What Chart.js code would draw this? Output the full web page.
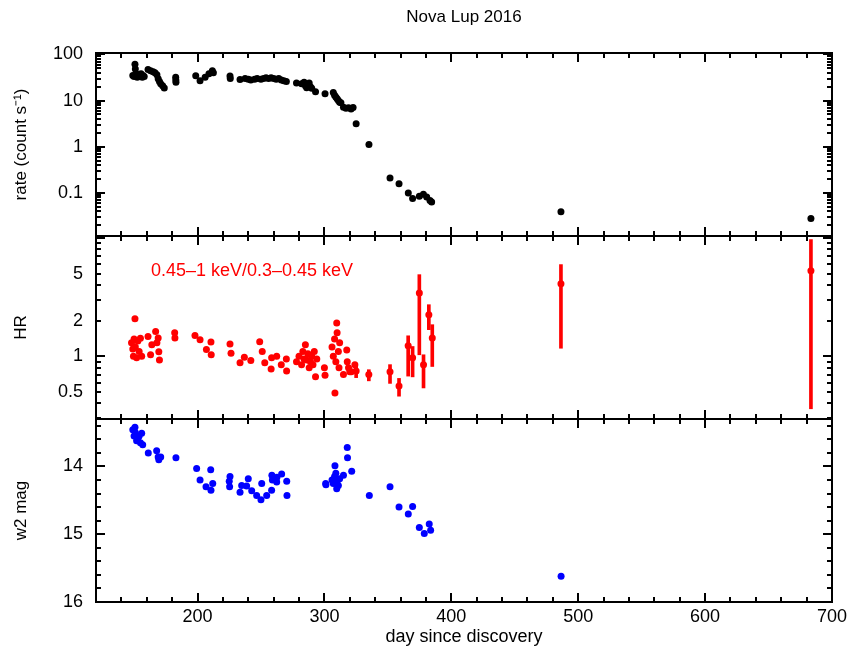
<!DOCTYPE html>
<html>
<head>
<meta charset="utf-8">
<title>Nova Lup 2016</title>
<script src="https://cdn.jsdelivr.net/npm/chart.js@4.4.1/dist/chart.umd.min.js"></script>
<style>
  html, body { margin: 0; padding: 0; background: #fff; }
</style>
</head>
<body>
<canvas id="novaChart" width="848" height="648"></canvas>
<script>
// X-ray count rate
const rateDay = [150.7, 151, 149, 150, 151.5, 152.5, 153.5, 154.5, 155.5, 156.5, 157, 158,
  161, 163, 165, 166.5, 168, 169, 170, 171, 172.5, 173.8, 182.8, 182.9, 183,
  198.6, 202, 206, 209, 211.7, 212.5, 225.6, 225.8, 233.5, 237.5, 240, 242, 245, 247,
  250, 252, 254, 256, 258, 260, 262, 264, 266, 268, 270, 278, 282, 284, 285, 286, 287,
  288, 289, 290, 293, 300.5, 307, 308, 309, 310, 311, 312, 313, 315, 317, 319, 321,
  322.6, 325, 335.1, 351.7, 358.8, 366.1, 369.5, 374.8, 378, 380.6, 383.2, 384.5,
  486.4, 683.4];
const rateVal = [61, 48, 35, 33, 38, 32, 36, 34, 38, 32, 35, 33,
  47, 44, 42, 40, 36, 29.5, 26, 23, 21, 18.8, 32, 28, 25,
  34.6, 27, 32, 38, 44, 40, 34, 30, 28.5, 30, 29, 28, 29, 30,
  29, 30, 31, 30, 31, 30, 29, 30, 28, 27, 25.7, 24, 23, 25, 21, 19, 22,
  24, 20, 18.5, 15.6, 14, 15, 13, 12, 11, 10, 9.2, 9, 7.2, 6.8, 7.0, 6.6,
  7.1, 3.13, 1.12, 0.21, 0.158, 0.1, 0.076, 0.085, 0.094, 0.082, 0.069, 0.064,
  0.039, 0.028];

// hardness ratio 0.45-1 keV / 0.3-0.45 keV
const hrDay = [150.7, 148, 149, 149.5, 150, 151, 152, 153, 154, 155, 156,
  161, 163, 164, 167, 168, 169, 169.5, 170, 182, 182.2, 198, 202, 207, 210.6, 210.8,
  225.6, 226.4, 233.5, 236.9, 242, 249, 251, 253, 258, 258.4, 262.4, 266, 270, 270.2,
  278, 280, 282, 283, 284, 285, 286, 287, 288, 289, 290, 291, 292, 293, 294, 300, 300.5,
  306, 307, 308, 308.3, 309, 309.7, 310, 311, 311.5, 312, 315, 317.6, 318, 319, 320,
  321.2, 324, 325, 335, 351.7, 358.8, 366, 369.5, 374.8, 378.1, 382.3, 385, 486.4, 683.4];
const hrVal = [2.08, 1.3, 1.15, 1.0, 1.4, 1.2, 0.97, 1.35, 1.1, 1.42, 1.0,
  1.47, 1.03, 1.25, 1.62, 1.3, 1.43, 1.09, 0.93, 1.58, 1.43, 1.5, 1.38, 1.14, 1.32, 1.03,
  1.27, 1.06, 0.88, 0.98, 0.92, 1.33, 1.1, 0.88, 0.78, 0.97, 1.0, 0.85, 0.95, 0.75,
  0.9, 1.0, 0.85, 1.1, 0.95, 1.25, 0.93, 1.05, 0.8, 0.9, 1.0, 0.85, 1.1, 0.67, 0.95, 0.8, 0.69,
  1.2, 1.0, 1.4, 0.49, 0.9, 1.91, 1.58, 1.1, 0.8, 1.3, 0.70, 1.13, 0.9, 0.8, 0.74,
  0.74, 0.85, 0.75, 0.70, 0.74, 0.56, 1.23, 0.97, 3.43, 0.85, 2.25, 1.43, 4.1, 5.3];
const hrErrDay = [325, 335, 351.7, 358.8, 366, 369.5, 374.8, 378.1, 382.3, 385, 486.4, 683.4];
const hrErrLo = [0.66, 0.62, 0.59, 0.46, 0.68, 0.67, 1.03, 0.54, 1.68, 0.82, 1.17, 0.36];
const hrErrHi = [0.85, 0.77, 0.85, 0.65, 1.49, 1.21, 4.9, 1.03, 2.73, 1.85, 5.96, 9.7];

// UVOT w2 magnitude
const w2Day = [150.7, 149, 150, 151, 152, 153, 154, 155, 156, 156.8, 161.2, 167.8, 169, 169.5, 171, 183,
  199.3, 202, 206.7, 210.4, 210.6, 212, 225, 225.6, 225.3, 233.5, 234.8, 238.7, 240, 242.7,
  246.6, 250, 250.6, 254.5, 258.4, 258.6, 259, 262.4, 262.6, 266.3, 270.3, 270.5,
  301, 301.2, 306, 307, 308, 308.3, 309, 309.7, 310, 311, 312, 315, 318, 318.2, 321.5,
  335.4, 351.7, 358.8, 366.1, 369.5, 374.8, 378.7, 382.6, 383.7, 486.5];
const w2Mag = [13.42, 13.46, 13.55, 13.5, 13.62, 13.58, 13.55, 13.65, 13.51, 13.68, 13.80, 13.77, 13.86, 13.90, 13.86, 13.87,
  14.03, 14.20, 14.30, 14.05, 14.35, 14.25, 14.22, 14.15, 14.30, 14.38, 14.28, 14.29, 14.18, 14.36,
  14.43, 14.49, 14.25, 14.43, 14.35, 14.13, 14.20, 14.23, 14.16, 14.11, 14.22, 14.43,
  14.25, 14.27, 14.20, 14.25, 14.15, 13.99, 14.10, 14.33, 14.22, 14.28, 14.18, 14.13, 13.72, 13.87, 14.07,
  14.43, 14.30, 14.60, 14.70, 14.59, 14.90, 14.99, 14.85, 14.94, 15.62];

// labelled ticks
const dayTicks = [200, 300, 400, 500, 600, 700];
const rateTicks = [0.1, 1, 10, 100];
const hrTicks = [0.5, 1, 2, 5];
const w2Ticks = [14, 15, 16];

const FONT = "'Liberation Sans', Arial, Helvetica, sans-serif";
Chart.defaults.color = '#000';
Chart.defaults.font.family = FONT;
Chart.defaults.font.size = 18;

function logMinor(min, max) {
  const out = [];
  for (let e = -3; e <= 3; e++) {
    for (let m = 1; m <= 9; m++) {
      const v = m * Math.pow(10, e);
      if (v >= min && v <= max) out.push({ v: v, major: m === 1 });
    }
  }
  return out;
}
function linMinor(start, end, step, majorStep) {
  const out = [];
  for (let v = start; v <= end + 1e-9; v += step) {
    const r = Math.round(v * 100) / 100;
    out.push({ v: r, major: Math.abs(r / majorStep - Math.round(r / majorStep)) < 1e-6 });
  }
  return out;
}

const panels = [
  { id: 'yRate', marks: logMinor(0.0117, 107) },
  { id: 'yHR', marks: logMinor(0.295, 10.4) },
  { id: 'yW2', marks: linMinor(13.4, 16.0, 0.2, 1) }
];
const dayMarks = linMinor(140, 700, 20, 100);

// frame, inward ticks on all four sides, and the band label
const framePlugin = {
  id: 'frame',
  afterDatasetsDraw(chart) {
    const { ctx, chartArea, scales } = chart;
    const x = scales.x;
    const left = chartArea.left, right = chartArea.right;
    ctx.save();
    ctx.strokeStyle = '#000';
    ctx.lineWidth = 2;
    panels.forEach(p => {
      const s = scales[p.id];
      const top = s.top, bottom = s.bottom;
      ctx.strokeRect(left, top, right - left, bottom - top);
      ctx.beginPath();
      dayMarks.forEach(t => {
        const len = t.major ? 9 : 5;
        const px = Math.round(x.getPixelForValue(t.v));
        ctx.moveTo(px, top); ctx.lineTo(px, top + len);
        ctx.moveTo(px, bottom); ctx.lineTo(px, bottom - len);
      });
      p.marks.forEach(t => {
        const len = t.major ? 9 : 5;
        const py = Math.round(s.getPixelForValue(t.v));
        ctx.moveTo(left, py); ctx.lineTo(left + len, py);
        ctx.moveTo(right, py); ctx.lineTo(right - len, py);
      });
      ctx.stroke();
    });
    ctx.fillStyle = '#ff0000';
    ctx.font = '18px ' + FONT;
    ctx.textAlign = 'left';
    ctx.textBaseline = 'middle';
    ctx.fillText('0.45\u20131 keV/0.3\u20130.45 keV', x.getPixelForValue(163.3), scales.yHR.getPixelForValue(5.23));
    ctx.restore();
  }
};

function fixY(scale) {
  scale.width = 96;
  scale.paddingTop = 0;
  scale.paddingBottom = 0;
}
function yAxis(extra) {
  return Object.assign({
    position: 'left',
    stack: 'panels',
    stackWeight: 1,
    grid: { display: false, drawTicks: false },
    border: { display: false },
    ticks: { padding: 13, autoSkip: false, callback: v => String(v), font: { size: 18 } },
    afterFit: fixY
  }, extra);
}

const rateData = rateDay.map((d, i) => ({ x: d, y: rateVal[i] }));
const hrData = hrDay.map((d, i) => ({ x: d, y: hrVal[i] }));
const hrErrData = hrErrDay.map((d, i) => ({ x: d, y: [hrErrLo[i], hrErrHi[i]] }));
const w2Data = w2Day.map((d, i) => ({ x: d, y: w2Mag[i] }));

const pointStyle = color => ({
  pointBackgroundColor: color,
  pointBorderColor: color,
  pointBorderWidth: 0,
  pointRadius: 3.5,
  showLine: false
});

new Chart(document.getElementById('novaChart'), {
  type: 'scatter',
  data: {
    datasets: [
      Object.assign({ label: 'rate', data: rateData, yAxisID: 'yRate', order: 1 }, pointStyle('#000000')),
      { type: 'bar', label: 'HR error', data: hrErrData, xAxisID: 'x', yAxisID: 'yHR',
        backgroundColor: '#ff0000', borderWidth: 0, barThickness: 3, order: 3 },
      Object.assign({ label: 'HR', data: hrData, yAxisID: 'yHR', order: 2 }, pointStyle('#ff0000')),
      Object.assign({ label: 'w2', data: w2Data, yAxisID: 'yW2', order: 1 }, pointStyle('#0000ff'))
    ]
  },
  options: {
    responsive: false,
    animation: false,
    events: [],
    layout: { padding: { left: 0, right: 16, top: 0, bottom: 0 } },
    plugins: {
      legend: { display: false },
      tooltip: { enabled: false },
      title: {
        display: true,
        fullSize: false,
        text: 'Nova Lup 2016',
        color: '#000',
        font: { size: 17, weight: 'normal', family: FONT },
        padding: { top: 7, bottom: 25.6 }
      }
    },
    scales: {
      x: {
        type: 'linear',
        min: 120,
        max: 700,
        offset: false,
        grid: { display: false, drawTicks: false, offset: false },
        border: { display: false },
        ticks: { padding: 4, autoSkip: false, maxRotation: 0, font: { size: 18 } },
        afterBuildTicks: s => { s.ticks = dayTicks.map(v => ({ value: v })); },
        afterFit: s => { s.height = 46; s.paddingLeft = 0; s.paddingRight = 0; },
        title: { display: true, text: 'day since discovery', font: { size: 18 }, padding: { top: 0, bottom: 0 } }
      },
      yRate: yAxis({
        type: 'logarithmic', min: 0.0117, max: 107, weight: 3,
        afterBuildTicks: s => { s.ticks = rateTicks.map(v => ({ value: v })); },
        title: { display: true, text: 'rate (count s\u207B\u00B9)', font: { size: 17 }, padding: { top: 11, bottom: 0 } }
      }),
      yHR: yAxis({
        type: 'logarithmic', min: 0.295, max: 10.4, beginAtZero: false, weight: 2,
        afterBuildTicks: s => { s.ticks = hrTicks.map(v => ({ value: v })); },
        title: { display: true, text: 'HR', font: { size: 17 }, padding: { top: 11, bottom: 0 } }
      }),
      yW2: yAxis({
        type: 'linear', min: 13.3, max: 16.0, reverse: true, weight: 1,
        afterBuildTicks: s => { s.ticks = w2Ticks.map(v => ({ value: v })); },
        title: { display: true, text: 'w2 mag', font: { size: 17 }, padding: { top: 11, bottom: 0 } }
      })
    }
  },
  plugins: [framePlugin]
});
</script>
</body>
</html>
